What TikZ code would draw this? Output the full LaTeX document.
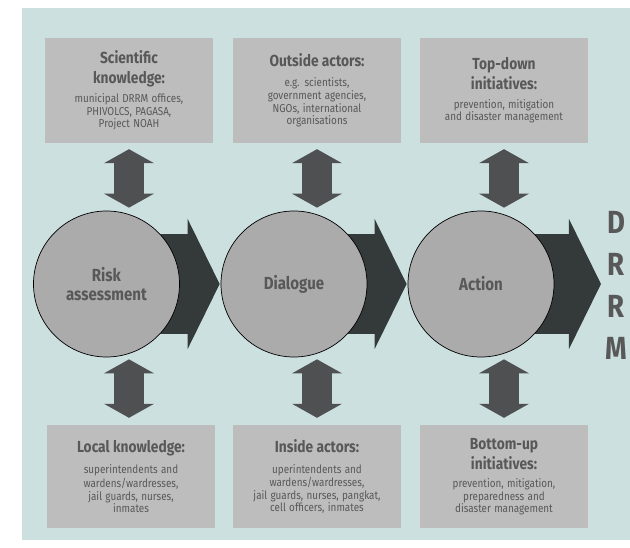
\documentclass[tikz,border=0pt]{standalone}
\usepackage{fontspec}
\setmainfont{Fira Sans}[FakeStretch=0.86]
\usetikzlibrary{arrows.meta,backgrounds,positioning}

\definecolor{panelbg}{RGB}{204,224,224}
\definecolor{boxgray}{RGB}{189,189,189}
\definecolor{circgray}{RGB}{171,171,171}
\definecolor{flowdark}{RGB}{52,57,58}
\definecolor{linkdark}{RGB}{78,80,82}
\definecolor{txtgray}{RGB}{88,88,88}

\newcommand{\boxtitle}{\fontsize{16}{20}\selectfont\bfseries}
\newcommand{\boxbody}{\fontsize{11.5}{13.3}\selectfont}

\tikzset{
  infobox/.style={fill=boxgray, minimum width=168pt, text width=164pt,
    align=center, text=txtgray, inner sep=0pt},
  stage/.style={circle, draw=black, line width=0.7pt, fill=circgray,
    minimum size=146pt, inner sep=0pt, align=center, text=txtgray,
    font=\fontsize{17.5}{19}\selectfont\bfseries},
  linkarrow/.style={draw=linkdark, line width=30pt,
    {Triangle[length=14pt,width=50pt,line width=0pt]}-{Triangle[length=14pt,width=50pt,line width=0pt]}},
  flowarrow/.style={draw=flowdark, line width=100pt,
    -{Triangle[length=32pt,width=130pt,line width=0pt]}},
}

\begin{document}
\begin{tikzpicture}[x=1pt, y=-1pt]
    \useasboundingbox (0, 0) rectangle (630, 548);

    % stages
    \node[stage] (risk) at (106.5, 284) {Risk\\assessment};
    \node[stage] (dialogue) at (294, 284) {Dialogue};
    \node[stage] (action) at (481, 284) {Action};

    \node[text=txtgray, font=\fontsize{32}{42}\selectfont\bfseries, align=center, inner sep=0pt]
      (drrm) at (616, 285) {D\\R\\R\\M};

    % top row
    \node[infobox, minimum height=105pt] (sci) at (129, 90.5)
      {{\boxtitle Scientific\\knowledge:\\[5pt]}
       {\boxbody municipal DRRM offices,\\PHIVOLCS, PAGASA,\\Project NOAH}};
    \node[infobox, minimum height=105pt] (outside) at (317, 90.5)
      {{\boxtitle Outside actors:\\[6pt]}
       {\boxbody e.g. scientists,\\government agencies,\\NGOs, international\\organisations}};
    \node[infobox, minimum height=105pt] (topdown) at (504, 90.5)
      {{\boxtitle Top-down\\initiatives:\\[6pt]}
       {\boxbody prevention, mitigation\\and disaster management}};

    % bottom row
    \node[infobox, minimum height=103pt] (local) at (131, 476.5)
      {{\boxtitle Local knowledge:\\[8pt]}
       {\boxbody superintendents and\\wardens/wardresses,\\jail guards, nurses,\\inmates}};
    \node[infobox, minimum height=103pt] (inside) at (317, 476.5)
      {{\boxtitle Inside actors:\\[8pt]}
       {\boxbody uperintendents and\\wardens/wardresses,\\jail guards, nurses, pangkat,\\cell officers, inmates}};
    \node[infobox, minimum height=103pt] (bottomup) at (504, 476.5)
      {{\boxtitle Bottom-up\\initiatives:\\[5pt]}
       {\boxbody prevention, mitigation,\\preparedness and\\disaster management}};

    % links between boxes and stages
    \foreach \up/\st/\down in {sci/risk/local, outside/dialogue/inside, topdown/action/bottomup} {
      \draw[linkarrow, shorten <=6pt, shorten >=3pt] (\up.south) -- (\up.south |- \st.north);
      \draw[linkarrow, shorten <=2pt, shorten >=7pt] (\up.south |- \st.south) -- (\down.north -| \up.south);
    }

    \begin{scope}[on background layer]
      \fill[panelbg] (22, 8) rectangle (630, 540);
      \draw[flowarrow, shorten >=1pt] (risk.center) -- (dialogue.west);
      \draw[flowarrow, shorten >=1pt] (dialogue.center) -- (action.west);
      \draw[flowarrow, shorten >=4pt] (action.center) -- (action -| drrm.west);
    \end{scope}
  \end{tikzpicture}
\end{document}
